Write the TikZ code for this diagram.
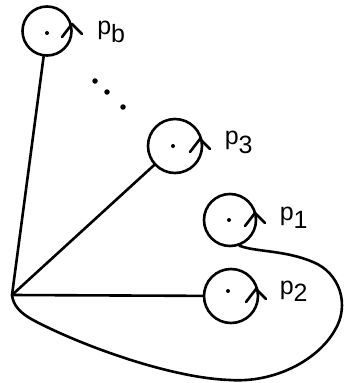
\documentclass[tikz,border=0pt]{standalone}
\usepackage{fontspec}
\setmainfont{Liberation Sans}
\begin{document}
\begin{tikzpicture}[x=1pt,y=-1pt,line width=2.6pt,line cap=round,line join=round,
  ring/.style={circle,draw,inner sep=0pt,minimum size=#1},
  lbl/.style={anchor=base west,inner sep=0pt,font=\fontsize{25}{25}\selectfont},
  spin/.pic={\draw (15,6) -- (25,-7) -- (35,3);},
  centredot/.style={fill,circle,inner sep=0pt,minimum size=4pt}]
\useasboundingbox (0,0) rectangle (345,383);
% circles
\node[ring=49pt] (pb) at (47,31) {};
\node[ring=54pt] (p3) at (175,146) {};
\node[ring=52pt] (p1) at (230,220) {};
\node[ring=54pt] (p2) at (231,296) {};
\coordinate (apex) at (12,295);
% centre dots
\node[centredot] (db) at (47,33) {};
\node[centredot] (d3) at (173,146) {};
\node[centredot] (d1) at (229,220) {};
\node[centredot] (d2) at (228,291) {};
% rotation arrows
\pic at (pb) {spin};
\pic at (p3) {spin};
\pic at (p1) {spin};
\pic at (p2) {spin};
% labels
\node[lbl] (lb) at (96,34) {p\lower8pt\hbox{b}};
\node[lbl] (l3) at (223.5,144) {p\lower9pt\hbox{3}};
\node[lbl] (l1) at (278.5,220.5) {p\lower8pt\hbox{1}};
\node[lbl] (l2) at (278.5,294) {p\lower7pt\hbox{2}};
% ellipsis
\node[centredot,minimum size=5.5pt] (e1) at (95,81) {};
\node[centredot,minimum size=5.5pt] (e2) at (107,92) {};
\node[centredot,minimum size=5.5pt] (e3) at (123,107) {};
% connectors
\draw (apex) -- (pb);
\draw (apex) -- (p3);
\draw (apex) -- (p2);
\draw (p1.-70) .. controls (255,252) and (285,250) .. (313,262)
  .. controls (340,273) and (350,305) .. (335,330)
  .. controls (318,360) and (275,383) .. (230,380)
  .. controls (170,378) and (80,345) .. (33,320)
  .. controls (20,313) and (13,305) .. (apex);
\end{tikzpicture}
\end{document}
